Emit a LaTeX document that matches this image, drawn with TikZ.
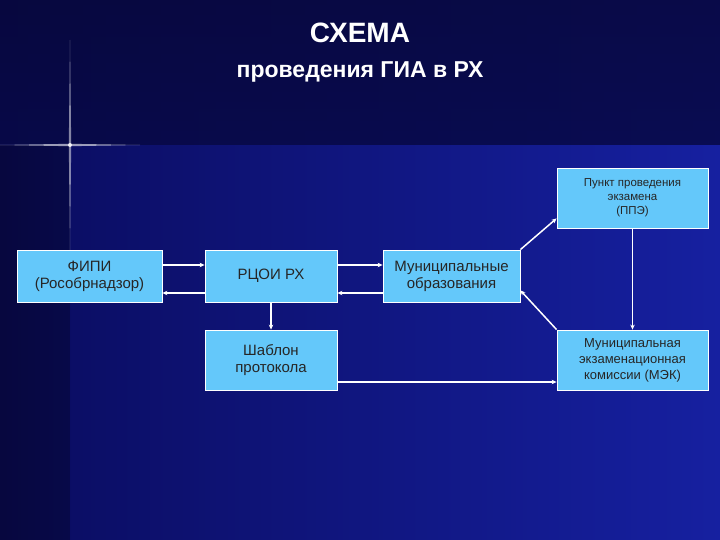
\documentclass[tikz,border=0pt]{standalone}
\usepackage{fontspec}
\setmainfont{Liberation Sans}
\usetikzlibrary{arrows.meta}
\begin{document}
\begin{tikzpicture}[x=1pt,y=-1pt,
  box/.style={draw=white,line width=0.8pt,fill=boxblue,text=black!85,align=center,inner sep=1pt,font=\fontsize{15}{17}\selectfont},
  small/.style={font=\fontsize{11.5}{14}\selectfont},
  arr/.style={draw=white,line width=1.5pt,-{Stealth[length=5pt,width=4.5pt]}}]
\definecolor{boxblue}{RGB}{100,200,250}
\definecolor{navyA}{RGB}{10,12,95}
\definecolor{navyB}{RGB}{22,32,160}
\definecolor{navyC}{RGB}{10,10,80}
\useasboundingbox (0,0) rectangle (720,540);
\fill[left color=navyA,right color=navyB] (0,0) rectangle (720,540);
\fill[top color=navyC,bottom color=navyA,opacity=0.6] (0,0) rectangle (720,145);
\fill[left color=navyC,right color=navyA,opacity=0.6] (0,145) rectangle (70,540);
% flare
\fill[white,opacity=0.5] (70,40) -- (71.2,145) -- (70,250) -- (68.8,145) -- cycle;
\fill[white,opacity=0.6] (0,145) -- (70,143.8) -- (140,145) -- (70,146.2) -- cycle;
\fill[white,opacity=0.8] (70,145) circle (2);
\node[text=white,font=\bfseries\fontsize{28}{30}\selectfont] (t1) at (360,33) {СХЕМА};
\node[text=white,font=\bfseries\fontsize{23}{26}\selectfont] (t2) at (360,72) {проведения ГИА в РХ};
\node[box,minimum width=145,minimum height=52] (fipi) at (89.5,276) {ФИПИ\\(Рособрнадзор)};
\node[box,minimum width=132,minimum height=52] (rcoi) at (271,276) {РЦОИ РХ};
\node[box,minimum width=137,minimum height=52] (mun) at (451.5,276) {Муниципальные\\образования};
\node[box,small,minimum width=151,minimum height=60] (ppe) at (632.5,198) {Пункт проведения\\экзамена\\(ППЭ)};
\node[box,minimum width=132,minimum height=60] (shab) at (271,360) {Шаблон\\протокола};
\node[box,font=\fontsize{13}{16}\selectfont,minimum width=151,minimum height=60] (mek) at (632.5,360) {Муниципальная\\экзаменационная\\комиссии (МЭК)};
\draw[arr] ([yshift=11]fipi.east) -- ([yshift=11]rcoi.west);
\draw[arr] ([yshift=-17]rcoi.west) -- ([yshift=-17]fipi.east);
\draw[arr] ([yshift=11]rcoi.east) -- ([yshift=11]mun.west);
\draw[arr] ([yshift=-17]mun.west) -- ([yshift=-17]rcoi.east);
\draw[arr] (rcoi.south) -- (shab.north);
\draw[arr] (mun.north east) -- ([yshift=10]ppe.south west);
\draw[arr] (mek.north west) -- ([yshift=12]mun.south east);
\draw[arr] (ppe.south) -- (mek.north);
\draw[arr] ([yshift=-22]shab.east) -- ([yshift=-22]mek.west);
\end{tikzpicture}
\end{document}
